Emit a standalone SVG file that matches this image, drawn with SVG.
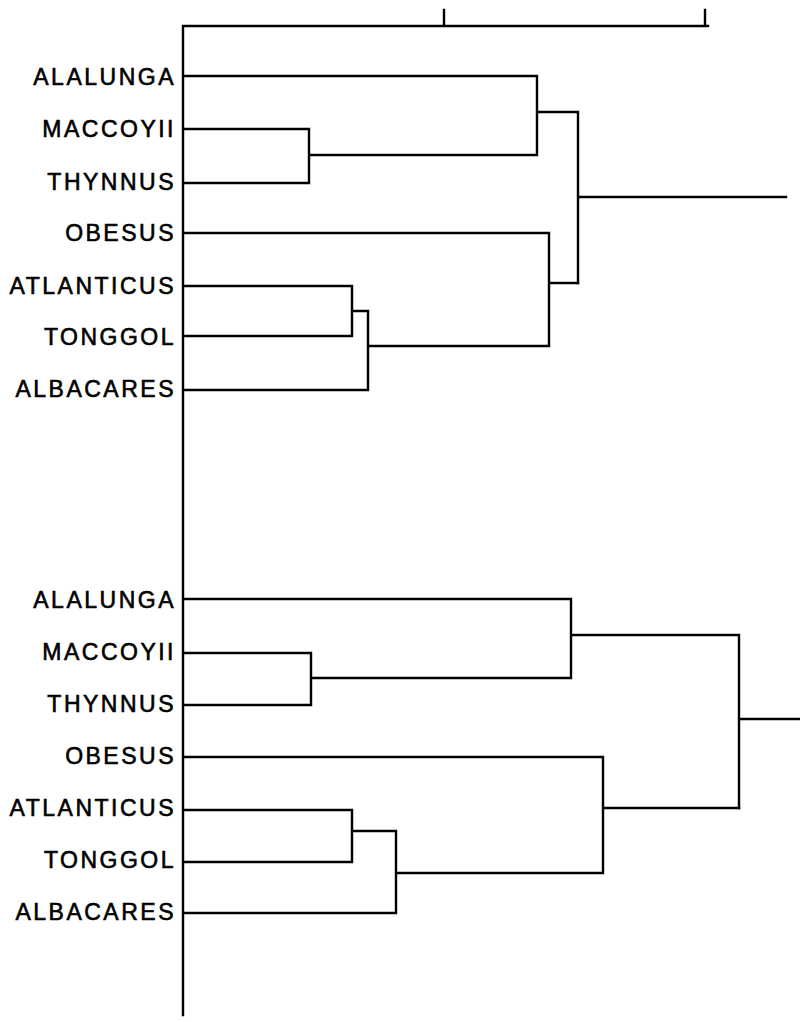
<svg xmlns="http://www.w3.org/2000/svg" width="800" height="1022" viewBox="0 0 800 1022">
<style>
.lbl{font-family:"Liberation Sans",Arial,sans-serif;font-size:23px;letter-spacing:2.5px;text-anchor:end;fill:#000;stroke:#000;stroke-width:0.6}
.ln{fill:none;stroke:#000;stroke-width:2.4;stroke-linecap:square;stroke-linejoin:miter}
</style>
<rect width="800" height="1022" fill="#fff"/>
<g id="axis">
<path class="ln" d="M183,26 H708 M444,10 V26 M705,10 V26 M183,26 V1015"/>
</g>
<g id="top-labels">
<text class="lbl" x="176" y="85">ALALUNGA</text>
<text class="lbl" x="176" y="137">MACCOYII</text>
<text class="lbl" x="176" y="190">THYNNUS</text>
<text class="lbl" x="176" y="241">OBESUS</text>
<text class="lbl" x="176" y="294">ATLANTICUS</text>
<text class="lbl" x="176" y="345">TONGGOL</text>
<text class="lbl" x="176" y="397">ALBACARES</text>
</g>
<g id="bottom-labels">
<text class="lbl" x="176" y="608">ALALUNGA</text>
<text class="lbl" x="176" y="660">MACCOYII</text>
<text class="lbl" x="176" y="712">THYNNUS</text>
<text class="lbl" x="176" y="764">OBESUS</text>
<text class="lbl" x="176" y="816">ATLANTICUS</text>
<text class="lbl" x="176" y="868">TONGGOL</text>
<text class="lbl" x="176" y="920">ALBACARES</text>
</g>
<g id="connectors">
<path class="ln" d="M184,76 H537 V155 M184,129 H309 V183 H184 M309,155 H537 M537,112 H578 V283 M578,197 H786"/>
<path class="ln" d="M184,233 H549 V346 M184,286 H352 V336 H184 M352,311 H368 V390 H184 M368,346 H549 M549,283 H578"/>
<path class="ln" d="M184,599 H571 V678 M184,653 H311 V705 H184 M311,678 H571 M571,635 H739 V808 M739,719 H800"/>
<path class="ln" d="M184,757 H603 V873 M184,810 H352 V862 H184 M352,831 H396 V913 H184 M396,873 H603 M603,808 H739"/>
</g>
</svg>
